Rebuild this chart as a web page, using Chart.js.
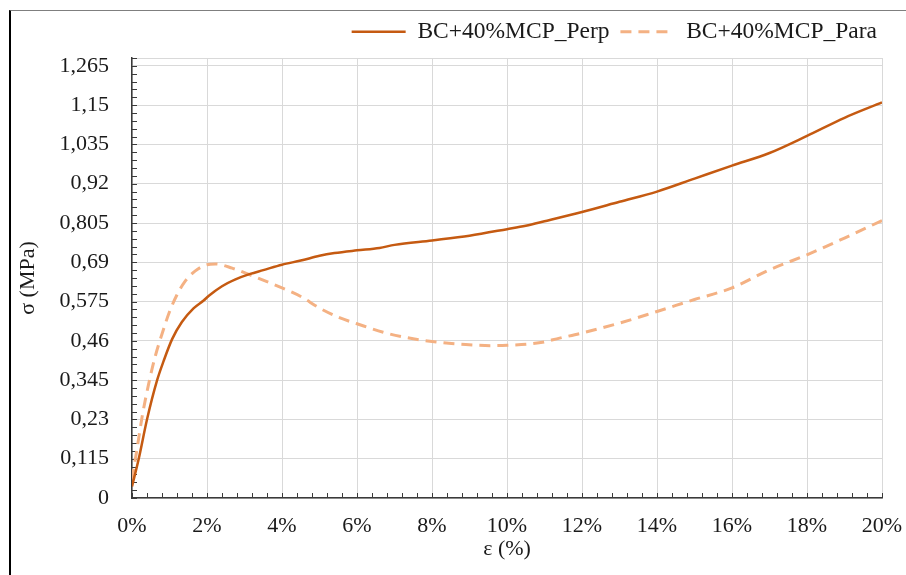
<!DOCTYPE html>
<html lang="en">
<head>
    <meta charset="UTF-8">
    <title>BC+40%MCP stress-strain</title>
    <script src="https://cdn.jsdelivr.net/npm/chart.js"></script>
    <style>
        html, body { margin: 0; padding: 0; background: #fff; overflow: hidden; }
        #frame { position: absolute; left: 9px; top: 10px; width: 910px; height: 580px;
                 border-left: 2px solid #000; border-top: 1px solid #7f7f7f; }
        #wrap { position: absolute; left: 0; top: 0; width: 906px; height: 575px; }
    </style>
</head>
<body>
    <div id="frame"></div>
    <div id="wrap"><canvas id="stressChart" width="906" height="575"></canvas></div>

    <script>
        // strain (%) / stress (MPa)
        const perpStrain = [0, 0.18, 0.4, 0.67, 0.84, 1.07, 1.33, 1.64, 1.91, 2.05, 2.4, 2.76, 3.15, 3.5, 4.0, 4.5, 5.0, 5.4, 6.0, 6.6, 7.0, 8.0, 9.0, 10.0, 10.5, 11.0, 12.0, 13.0, 14.0, 15.0, 16.0, 17.0, 18.0, 19.0, 20.0];
        const perpStress = [0.034, 0.115, 0.23, 0.345, 0.4, 0.465, 0.515, 0.555, 0.578, 0.592, 0.62, 0.64, 0.656, 0.667, 0.683, 0.695, 0.709, 0.717, 0.725, 0.732, 0.741, 0.754, 0.768, 0.787, 0.797, 0.81, 0.837, 0.867, 0.897, 0.935, 0.973, 1.01, 1.06, 1.113, 1.158];

        const paraStrain = [0, 0.13, 0.27, 0.44, 0.62, 0.8, 1.0, 1.2, 1.4, 1.68, 2.0, 2.22, 2.67, 3.15, 4.0, 4.5, 5.0, 5.55, 6.0, 6.7, 7.3, 8.0, 8.9, 9.6, 10.0, 10.9, 11.4, 12.0, 13.0, 14.0, 15.0, 16.0, 17.0, 18.0, 19.0, 20.0];
        const paraStress = [0.054, 0.141, 0.238, 0.332, 0.415, 0.48, 0.545, 0.595, 0.632, 0.664, 0.683, 0.685, 0.673, 0.653, 0.615, 0.59, 0.556, 0.527, 0.51, 0.485, 0.47, 0.458, 0.449, 0.446, 0.447, 0.455, 0.468, 0.483, 0.512, 0.546, 0.581, 0.615, 0.668, 0.712, 0.761, 0.812];

        const xTickLabels = ['0%', '2%', '4%', '6%', '8%', '10%', '12%', '14%', '16%', '18%', '20%'];
        const yTickLabels = ['0', '0,115', '0,23', '0,345', '0,46', '0,575', '0,69', '0,805', '0,92', '1,035', '1,15', '1,265'];

        const serif = 'Liberation Serif';
        const textColor = '#1a1a1a';
        const axisColor = '#3a3a3a';
        const gridColor = '#d9d9d9';

        const toPoints = (xs, ys) => xs.map((x, i) => ({ x: x, y: ys[i] }));

        // Excel-like inside minor ticks
        const minorTicks = {
            id: 'minorTicks',
            beforeDatasetsDraw(chart) {
                const { ctx, scales: { x, y } } = chart;
                ctx.save();
                ctx.strokeStyle = axisColor;
                ctx.lineWidth = 1;
                ctx.beginPath();
                y.ticks.forEach(t => {
                    const py = Math.round(y.getPixelForValue(t.value)) + 0.5;
                    ctx.moveTo(y.right, py);
                    ctx.lineTo(y.right + 5, py);
                });
                x.ticks.forEach(t => {
                    const px = Math.round(x.getPixelForValue(t.value)) + 0.5;
                    ctx.moveTo(px, x.top);
                    ctx.lineTo(px, x.top - 5);
                });
                ctx.stroke();
                ctx.restore();
            }
        };

        // fix legend height so the plot area starts where the original does
        const legendHeight = {
            id: 'legendHeight',
            beforeInit(chart) {
                const fit = chart.legend.fit;
                chart.legend.fit = function () {
                    fit.call(this);
                    this.height = 43;
                };
            }
        };

        const ctx = document.getElementById('stressChart').getContext('2d');
        const stressChart = new Chart(ctx, {
            type: 'line',
            data: {
                datasets: [
                    {
                        label: 'BC+40%MCP_Perp',
                        data: toPoints(perpStrain, perpStress),
                        borderColor: '#c55a11',
                        backgroundColor: '#c55a11',
                        borderWidth: 2.5,
                        pointRadius: 0,
                        cubicInterpolationMode: 'monotone'
                    },
                    {
                        label: 'BC+40%MCP_Para',
                        data: toPoints(paraStrain, paraStress),
                        borderColor: '#f4b183',
                        backgroundColor: '#f4b183',
                        borderWidth: 3,
                        borderDash: [11, 7],
                        pointRadius: 0,
                        cubicInterpolationMode: 'monotone'
                    }
                ]
            },
            options: {
                responsive: false,
                animation: false,
                layout: { padding: { top: 15, right: 24, bottom: 0, left: 0 } },
                plugins: {
                    tooltip: { enabled: false },
                    legend: {
                        position: 'top',
                        align: 'end',
                        labels: {
                            usePointStyle: true,
                            pointStyle: 'line',
                            pointStyleWidth: 54,
                            padding: 5,
                            color: textColor,
                            font: { family: serif, size: 23.5 },
                            generateLabels(chart) {
                                const items = Chart.defaults.plugins.legend.labels.generateLabels(chart);
                                items.forEach((item, i) => {
                                    const ds = chart.data.datasets[i];
                                    item.strokeStyle = ds.borderColor;
                                    item.lineWidth = ds.borderWidth;
                                    item.lineDash = ds.borderDash || [];
                                });
                                items[0].text += '\u00a0';
                                return items;
                            }
                        }
                    }
                },
                scales: {
                    x: {
                        type: 'linear',
                        min: 0,
                        max: 20,
                        afterBuildTicks(scale) {
                            scale.ticks = Array.from({ length: 51 }, (_, i) => ({ value: i * 0.4 }));
                        },
                        afterFit(scale) {
                            scale.height = 77;
                            scale.paddingLeft = 0;
                            scale.paddingRight = 0;
                        },
                        ticks: {
                            autoSkip: false,
                            maxRotation: 0,
                            padding: 15,
                            color: textColor,
                            font: { family: serif, size: 22 },
                            callback: (v, i) => (i % 5 === 0 ? xTickLabels[i / 5] : '')
                        },
                        grid: {
                            drawTicks: false,
                            lineWidth: 1,
                            color: c => (c.index % 5 === 0 ? gridColor : 'rgba(0,0,0,0)')
                        },
                        border: { color: axisColor, width: 1.5 },
                        title: {
                            display: true,
                            text: 'ε (%)',
                            color: textColor,
                            font: { family: serif, size: 22 },
                            padding: { top: 0, bottom: 13 }
                        }
                    },
                    y: {
                        min: 0,
                        max: 1.288,
                        afterBuildTicks(scale) {
                            scale.ticks = Array.from({ length: 57 }, (_, i) => ({ value: i * 0.023 }));
                        },
                        afterFit(scale) { scale.width = 132; },
                        ticks: {
                            autoSkip: false,
                            padding: 23,
                            color: textColor,
                            font: { family: serif, size: 22 },
                            callback: (v, i) => (i % 5 === 0 ? yTickLabels[i / 5] : '')
                        },
                        grid: {
                            drawTicks: false,
                            lineWidth: 1,
                            color: c => (c.index % 5 === 0 || c.index === 56 ? gridColor : 'rgba(0,0,0,0)')
                        },
                        border: { color: axisColor, width: 1.5 },
                        title: {
                            display: true,
                            text: 'σ (MPa)',
                            color: textColor,
                            font: { family: serif, size: 22 },
                            padding: { top: 15, bottom: 0 }
                        }
                    }
                }
            },
            plugins: [minorTicks, legendHeight]
        });
    </script>
</body>
</html>
